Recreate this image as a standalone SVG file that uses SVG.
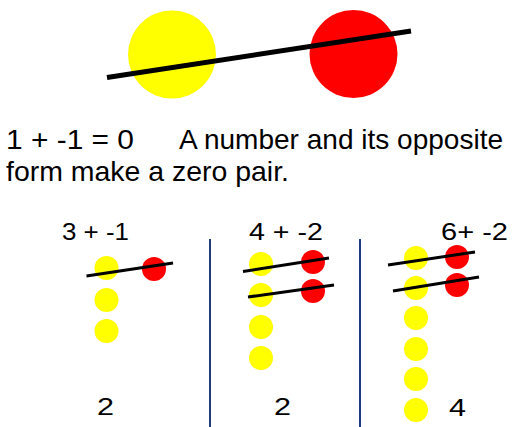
<svg xmlns="http://www.w3.org/2000/svg" width="520" height="427" viewBox="0 0 520 427">
<style>
.y{fill:#FFFF00}
.r{fill:#FF0000}
.x{stroke:#000;stroke-width:3;stroke-linecap:butt}
.t{font-family:"Liberation Sans",Arial,sans-serif;fill:#000}
.sep{stroke:#1F3C80;stroke-width:2}
</style>
<rect width="520" height="427" fill="#fff"/>
<g id="top-pair">
<circle class="y" cx="172" cy="54.5" r="44"/>
<circle class="r" cx="353.5" cy="54" r="44"/>
<line x1="107" y1="77.5" x2="411" y2="31" stroke="#000" stroke-width="5"/>
</g>
<g id="caption">
<text class="t" x="6" y="149" font-size="28" textLength="128" lengthAdjust="spacingAndGlyphs">1 + -1 = 0</text>
<text class="t" x="179" y="149" font-size="28" textLength="324" lengthAdjust="spacingAndGlyphs">A number and its opposite</text>
<text class="t" x="6" y="181" font-size="28" textLength="283" lengthAdjust="spacingAndGlyphs">form make a zero pair.</text>
</g>
<g id="separators">
<line class="sep" x1="210" y1="239" x2="210" y2="427"/>
<line class="sep" x1="360" y1="239" x2="360" y2="427"/>
</g>
<g id="example1">
<text class="t" x="62" y="240" font-size="24" textLength="67" lengthAdjust="spacingAndGlyphs">3 + -1</text>
<circle class="y" cx="106.5" cy="268" r="12"/>
<circle class="y" cx="106.5" cy="300" r="12"/>
<circle class="y" cx="106.5" cy="331" r="12"/>
<circle class="r" cx="154" cy="269" r="12"/>
<line class="x" x1="86.5" y1="276" x2="173" y2="263"/>
<text class="t" x="97" y="415" font-size="24" textLength="17" lengthAdjust="spacingAndGlyphs">2</text>
</g>
<g id="example2">
<text class="t" x="249" y="240" font-size="24" textLength="74" lengthAdjust="spacingAndGlyphs">4 + -2</text>
<circle class="y" cx="261" cy="264" r="12"/>
<circle class="y" cx="261" cy="295" r="12"/>
<circle class="y" cx="261" cy="327" r="12"/>
<circle class="y" cx="261" cy="358" r="12"/>
<circle class="r" cx="313" cy="262" r="12"/>
<circle class="r" cx="313" cy="291" r="12"/>
<line class="x" x1="243" y1="271.5" x2="329" y2="258"/>
<line class="x" x1="248" y1="297" x2="334" y2="285"/>
<text class="t" x="274" y="415" font-size="24" textLength="17" lengthAdjust="spacingAndGlyphs">2</text>
</g>
<g id="example3">
<text class="t" x="441" y="240" font-size="24" textLength="67" lengthAdjust="spacingAndGlyphs">6+ -2</text>
<circle class="y" cx="416" cy="258" r="12"/>
<circle class="y" cx="416" cy="288" r="12"/>
<circle class="y" cx="416" cy="318" r="12"/>
<circle class="y" cx="416" cy="349" r="12"/>
<circle class="y" cx="416" cy="379" r="12"/>
<circle class="y" cx="416" cy="410" r="12"/>
<circle class="r" cx="457" cy="257" r="12"/>
<circle class="r" cx="457" cy="285" r="12"/>
<line class="x" x1="388" y1="265" x2="475" y2="252"/>
<line class="x" x1="393" y1="291" x2="479" y2="277"/>
<text class="t" x="449" y="416" font-size="24" textLength="17" lengthAdjust="spacingAndGlyphs">4</text>
</g>
</svg>
